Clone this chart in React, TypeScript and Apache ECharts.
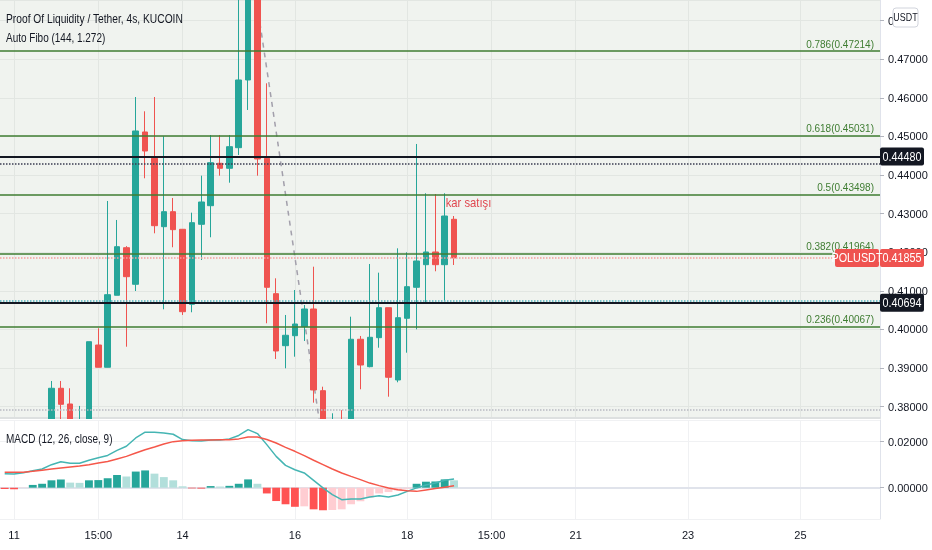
import React, { useEffect, useRef } from "react";
import * as echarts from "echarts";

const FONT = "'Liberation Sans', Arial, sans-serif";

// 4-hour candles, first slot = 10th 23:00 (local)
const SLOT_COUNT = 94;
const START_UTC = Date.UTC(2024, 8, 10, 23, 0);
const pad = (n: number) => (n < 10 ? "0" + n : "" + n);
const CATEGORIES: string[] = Array.from({ length: SLOT_COUNT }, (_, i) => {
  const d = new Date(START_UTC + i * 4 * 3600 * 1000);
  return `${pad(d.getUTCDate())} ${pad(d.getUTCHours())}:00`;
});

const TICK_LABELS: Record<string, string> = {
  "11 03:00": "11",
  "12 15:00": "15:00",
  "14 03:00": "14",
  "16 03:00": "16",
  "18 03:00": "18",
  "19 15:00": "15:00",
  "21 03:00": "21",
  "23 03:00": "23",
  "25 03:00": "25",
};

// [open, close, low, high]
const CANDLES: number[][] = [
  [0.3745, 0.3718, 0.369, 0.3762],
  [0.3718, 0.3702, 0.368, 0.3745],
  [0.3702, 0.3735, 0.369, 0.3752],
  [0.3735, 0.376, 0.372, 0.3768],
  [0.376, 0.3764, 0.3738, 0.3769],
  [0.3764, 0.38477, 0.3755, 0.38666],
  [0.38477, 0.38062, 0.3755, 0.38666],
  [0.3807, 0.3745, 0.37, 0.38477],
  [0.3735, 0.376, 0.37, 0.3802],
  [0.376, 0.39684, 0.3745, 0.39684],
  [0.39598, 0.39021, 0.39021, 0.40031],
  [0.39021, 0.40902, 0.3902, 0.43329],
  [0.40886, 0.42145, 0.40886, 0.42837],
  [0.42119, 0.41368, 0.39554, 0.4216],
  [0.41171, 0.45143, 0.40997, 0.46023],
  [0.45117, 0.44624, 0.43917, 0.45653],
  [0.44435, 0.42689, 0.42492, 0.46023],
  [0.42663, 0.43052, 0.40523, 0.45005],
  [0.43052, 0.42586, 0.4213, 0.43407],
  [0.42596, 0.40461, 0.40376, 0.42596],
  [0.40653, 0.42767, 0.40446, 0.43026],
  [0.42725, 0.43303, 0.418, 0.43985],
  [0.43207, 0.44321, 0.42389, 0.45039],
  [0.44306, 0.44176, 0.43985, 0.45039],
  [0.44176, 0.44736, 0.43803, 0.45039],
  [0.4471, 0.46464, 0.44521, 0.488],
  [0.46464, 0.4905, 0.45687, 0.49994],
  [0.49, 0.44417, 0.43985, 0.495],
  [0.44435, 0.41093, 0.40161, 0.46378],
  [0.40928, 0.39443, 0.39236, 0.41326],
  [0.3958, 0.3985, 0.38995, 0.40376],
  [0.39839, 0.40142, 0.39295, 0.41023],
  [0.40073, 0.40531, 0.39702, 0.40635],
  [0.40531, 0.38433, 0.38104, 0.41627],
  [0.38415, 0.3735, 0.37002, 0.38518],
  [0.3735, 0.3752, 0.3712, 0.37829],
  [0.3752, 0.3728, 0.3715, 0.37909],
  [0.3728, 0.39747, 0.372, 0.40332],
  [0.39747, 0.3908, 0.38451, 0.39832],
  [0.39037, 0.39798, 0.3902, 0.41697],
  [0.39788, 0.40565, 0.39528, 0.41472],
  [0.40565, 0.38762, 0.38259, 0.40565],
  [0.38692, 0.40306, 0.38632, 0.42103],
  [0.4029, 0.41109, 0.39399, 0.42],
  [0.41093, 0.41775, 0.40005, 0.44806],
  [0.41679, 0.42008, 0.40661, 0.43529],
  [0.42008, 0.41679, 0.41508, 0.4351],
  [0.41679, 0.4294, 0.40746, 0.43529],
  [0.42855, 0.41855, 0.41671, 0.4294],
];

const MACD_LINE = [
  0.0061, 0.0059, 0.0065, 0.0074, 0.0081, 0.01, 0.0113, 0.0106, 0.0106, 0.0119,
  0.013, 0.014, 0.0162, 0.018, 0.0216, 0.0241, 0.0241, 0.0238, 0.0232, 0.0209,
  0.0204, 0.0203, 0.0207, 0.0207, 0.0212, 0.0227, 0.0252, 0.0235, 0.0187, 0.0136,
  0.0097, 0.0078, 0.0064, 0.0032, -0.0001, -0.003, -0.0052, -0.0049, -0.0049, -0.004,
  -0.0035, -0.004, -0.0032, -0.0016, -0.0001, 0.0012, 0.002, 0.0032, 0.0038,
];
const SIGNAL_LINE = [
  0.0067, 0.0067, 0.0067, 0.0071, 0.0076, 0.0081, 0.0086, 0.009, 0.0094, 0.01,
  0.0107, 0.0114, 0.0125, 0.0136, 0.0151, 0.0165, 0.0177, 0.019, 0.02, 0.0204,
  0.0206, 0.0207, 0.0207, 0.0208, 0.0208, 0.0212, 0.022, 0.022, 0.0209, 0.0194,
  0.0175, 0.0158, 0.0139, 0.0119, 0.01, 0.0081, 0.0064, 0.0049, 0.0035, 0.002,
  0.0009, -0.0001, -0.0009, -0.0013, -0.0016, -0.001, -0.0004, 0.0002, 0.0008,
];
const HISTOGRAM = [
  -0.0006, -0.0007, -0.0001, 0.0012, 0.0017, 0.0032, 0.0036, 0.0022, 0.0021, 0.0032,
  0.0033, 0.0041, 0.0055, 0.0049, 0.007, 0.0075, 0.0061, 0.0046, 0.0032, 0.0006,
  -0.0003, -0.0004, 0.0007, 0.0005, 0.0008, 0.0017, 0.0036, 0.0017, -0.0025, -0.0058,
  -0.0072, -0.0083, -0.0081, -0.0094, -0.0098, -0.0097, -0.0094, -0.0072, -0.0059, -0.0043,
  -0.0025, -0.0019, -0.0012, -0.0004, 0.0017, 0.0026, 0.0027, 0.0036, 0.0032,
];

const FIB_RATIOS = ["0.236", "0.382", "0.5", "0.618", "0.786"];
const FIB_PRICES = [0.40067, 0.41964, 0.43498, 0.45031, 0.47214];
const SOLID_LEVELS = [0.4448, 0.40694];
const DOTTED_LEVELS = [0.44288, 0.40746, 0.37915];
const LAST_PRICE = 0.41855;
const SYMBOL = "POLUSDT";
const SWING_HIGH = { index: 26, price: 0.49994 };
const SWING_LOW = { index: 34, price: 0.37002 };
const NOTE = { index: 47, price: 0.4328, text: "kar satışı" };
const VIEW_MIN = 0.37707;
const VIEW_MAX = 0.48536;
const MACD_MIN = -0.0136;
const MACD_MAX = 0.0294;

const UP = "#26a69a";
const DOWN = "#ef5350";
const FIB_COLOR = "#3f7d32";
const TEXT = "#131722";

export default function App() {
  const ref = useRef<HTMLDivElement>(null);

  useEffect(() => {
    document.body.style.margin = "0";
    const chart = echarts.init(ref.current as HTMLDivElement, null, { renderer: "svg" });

    const tickShown = (_i: number, v: string) => v in TICK_LABELS;

    const trend: (number | null)[] = CATEGORIES.map(() => null);
    trend[SWING_HIGH.index] = SWING_HIGH.price;
    trend[SWING_LOW.index] = SWING_LOW.price;

    const histData = HISTOGRAM.map((v, i) => {
      const prev = i > 0 ? HISTOGRAM[i - 1] : 0;
      let color;
      if (v >= 0) color = v > prev ? "#26a69a" : "#b2dfdb";
      else color = v < prev ? "#ff5252" : "#ffcdd2";
      return { value: v, itemStyle: { color } };
    });

    const markData: any[] = [];
    FIB_PRICES.forEach((p, i) => {
      markData.push({
        yAxis: p,
        lineStyle: { color: FIB_COLOR, width: 1.5, type: "solid" },
        label: {
          show: true,
          position: "insideEndTop",
          distance: [6, 2],
          formatter: `${FIB_RATIOS[i]}(${p.toFixed(5)})`,
          color: FIB_COLOR,
          fontSize: 10,
          fontFamily: FONT,
        },
      });
    });
    SOLID_LEVELS.forEach((p) =>
      markData.push({ yAxis: p, lineStyle: { color: TEXT, width: 2, type: "solid" }, label: { show: false } })
    );
    const dottedColors = ["#3a3d52", "#4fb3bf", "#b8bbc2"];
    DOTTED_LEVELS.forEach((p, i) =>
      markData.push({ yAxis: p, lineStyle: { color: dottedColors[i], width: 1.5, type: [1.5, 1.5] }, label: { show: false } })
    );
    markData.push({ yAxis: LAST_PRICE, lineStyle: { color: "#f59e9c", width: 1.5, type: [1.5, 1.5] }, label: { show: false } });

    const option: any = {
      animation: false,
      textStyle: { fontFamily: FONT },
      grid: [
        { left: 0, top: 0, width: 880, height: 418, show: true, backgroundColor: "#f0f3ef", borderWidth: 0 },
        { left: 0, top: 420, width: 880, height: 99, show: false },
      ],
      xAxis: [
        {
          type: "category",
          gridIndex: 0,
          data: CATEGORIES,
          boundaryGap: true,
          axisLine: { show: true, lineStyle: { color: "#dde0e0", width: 2 } },
          axisTick: { show: false },
          axisLabel: { show: false },
          splitLine: { show: true, alignWithLabel: true, interval: tickShown, lineStyle: { color: "#e2e6e2", width: 1 } },
        },
        {
          type: "category",
          gridIndex: 1,
          z: 6,
          data: CATEGORIES,
          boundaryGap: true,
          axisLine: { show: true, lineStyle: { color: "#e0e3eb", width: 2 } },
          axisTick: { show: false },
          axisLabel: {
            interval: tickShown,
            formatter: (v: string) => TICK_LABELS[v] || "",
            color: TEXT,
            fontSize: 11,
            margin: 10,
            fontFamily: FONT,
          },
          splitLine: { show: true, alignWithLabel: true, interval: tickShown, lineStyle: { color: "#f0f1f3", width: 1 } },
        },
      ],
      yAxis: [
        {
          type: "value",
          gridIndex: 0,
          position: "right",
          min: VIEW_MIN,
          max: VIEW_MAX,
          splitNumber: 10,
          axisLine: { show: true, lineStyle: { color: "#e0e3eb" } },
          axisTick: { show: true, length: 4, lineStyle: { color: "#b2b5be" } },
          axisLabel: {
            showMinLabel: false,
            showMaxLabel: false,
            formatter: (v: number) => v.toFixed(5),
            color: TEXT,
            fontSize: 11,
            margin: 8,
            fontFamily: FONT,
          },
          splitLine: { show: true, lineStyle: { color: "#e2e6e2", width: 1 } },
        },
        {
          type: "value",
          gridIndex: 1,
          z: 6,
          position: "right",
          min: MACD_MIN,
          max: MACD_MAX,
          splitNumber: 2,
          axisLine: { show: true, lineStyle: { color: "#e0e3eb" } },
          axisTick: { show: true, length: 4, lineStyle: { color: "#b2b5be" } },
          axisLabel: {
            showMinLabel: false,
            showMaxLabel: false,
            formatter: (v: number) => Math.abs(v).toFixed(5),
            color: TEXT,
            fontSize: 11,
            margin: 8,
            fontFamily: FONT,
          },
          splitLine: { show: true, lineStyle: { color: "#f0f1f3", width: 1 } },
        },
      ],
      series: [
        {
          type: "line",
          xAxisIndex: 0,
          yAxisIndex: 0,
          data: [],
          z: 1,
          silent: true,
          markLine: { symbol: ["none", "none"], precision: 5, silent: true, animation: false, data: markData },
        },
        {
          type: "candlestick",
          xAxisIndex: 0,
          yAxisIndex: 0,
          z: 3,
          barWidth: 6,
          clip: true,
          data: CANDLES.map((c) => [c[0], c[1], c[2], c[3]]),
          itemStyle: { color: UP, color0: DOWN, borderColor: UP, borderColor0: DOWN, borderWidth: 1 },
        },
        {
          type: "line",
          xAxisIndex: 0,
          yAxisIndex: 0,
          z: 3,
          data: trend,
          connectNulls: true,
          showSymbol: false,
          symbol: "none",
          clip: true,
          lineStyle: { color: "#a29fab", width: 1.5, type: [5, 5] },
        },
        {
          type: "bar",
          xAxisIndex: 1,
          yAxisIndex: 1,
          z: 7,
          barWidth: "84%",
          data: histData,
        },
        {
          type: "line",
          xAxisIndex: 1,
          yAxisIndex: 1,
          z: 8,
          data: MACD_LINE,
          symbol: "none",
          lineStyle: { color: "#45b5b3", width: 1.5 },
        },
        {
          type: "line",
          xAxisIndex: 1,
          yAxisIndex: 1,
          z: 8,
          data: SIGNAL_LINE,
          symbol: "none",
          lineStyle: { color: "#f5574a", width: 1.5 },
        },
      ],
    };
    chart.setOption(option);

    const yOf = (v: number) => chart.convertToPixel({ yAxisIndex: 0 } as any, v) as number;
    const boxH = 18;
    const Z = 100;
    const priceBox = (v: number, fill: string, x: number, w: number, text: string) => [
      { type: "rect", z: Z, shape: { x, y: yOf(v) - boxH / 2, width: w, height: boxH, r: 2 }, style: { fill } },
      {
        type: "text",
        z: Z + 1,
        x: x + w / 2,
        y: yOf(v),
        scaleX: 0.9,
        style: { text, fill: "#ffffff", fontSize: 12, fontFamily: FONT, align: "center", verticalAlign: "middle" },
      },
    ];
    const note = chart.convertToPixel({ gridIndex: 0 } as any, [CATEGORIES[NOTE.index], NOTE.price]) as number[];
    const panelBottom = yOf(VIEW_MIN);

    chart.setOption({
      graphic: [
        // mask: keeps price candles inside the main pane (below-the-pane part hidden)
        { type: "rect", z: 4, silent: true, shape: { x: 0, y: panelBottom + 1, width: 932, height: 550 - panelBottom }, style: { fill: "#ffffff" } },
        {
          type: "text",
          x: 6,
          y: 18,
          scaleX: 0.76,
          z: Z,
          style: { text: "Proof Of Liquidity / Tether, 4s, KUCOIN", fill: TEXT, fontSize: 13.5, fontFamily: FONT, verticalAlign: "middle" },
        },
        {
          type: "text",
          x: 6,
          y: 37,
          scaleX: 0.74,
          z: Z,
          style: { text: "Auto Fibo (144, 1.272)", fill: TEXT, fontSize: 13.5, fontFamily: FONT, verticalAlign: "middle" },
        },
        {
          type: "text",
          x: 6,
          y: 438,
          scaleX: 0.74,
          z: Z,
          style: { text: "MACD (12, 26, close, 9)", fill: TEXT, fontSize: 13.5, fontFamily: FONT, verticalAlign: "middle" },
        },
        {
          type: "text",
          x: note[0] + 1,
          y: note[1],
          scaleX: 0.9,
          z: Z,
          style: { text: NOTE.text, fill: "#e0474f", fontSize: 12.5, fontFamily: FONT, verticalAlign: "middle" },
        },
        ...priceBox(SOLID_LEVELS[0], TEXT, 880, 44, SOLID_LEVELS[0].toFixed(5)),
        ...priceBox(SOLID_LEVELS[1], TEXT, 880, 44, SOLID_LEVELS[1].toFixed(5)),
        ...priceBox(LAST_PRICE, DOWN, 880, 44, LAST_PRICE.toFixed(5)),
        ...priceBox(LAST_PRICE, DOWN, 835, 44, SYMBOL),
        { type: "rect", z: Z, shape: { x: 893, y: 6, width: 39, height: 24 }, style: { fill: "#ffffff" } },
        { type: "rect", z: Z + 1, shape: { x: 893, y: 8, width: 25, height: 19, r: 3 }, style: { fill: "#ffffff", stroke: "#d1d4dc", lineWidth: 1 } },
        {
          type: "text",
          z: Z + 2,
          x: 905.5,
          y: 17.5,
          scaleX: 0.85,
          style: { text: "USDT", fill: TEXT, fontSize: 10.5, fontFamily: FONT, align: "center", verticalAlign: "middle" },
        },
      ],
    });

    return () => chart.dispose();
  }, []);

  return <div ref={ref} style={{ position: "fixed", left: 0, top: 0, width: 932, height: 550 }} />;
}
